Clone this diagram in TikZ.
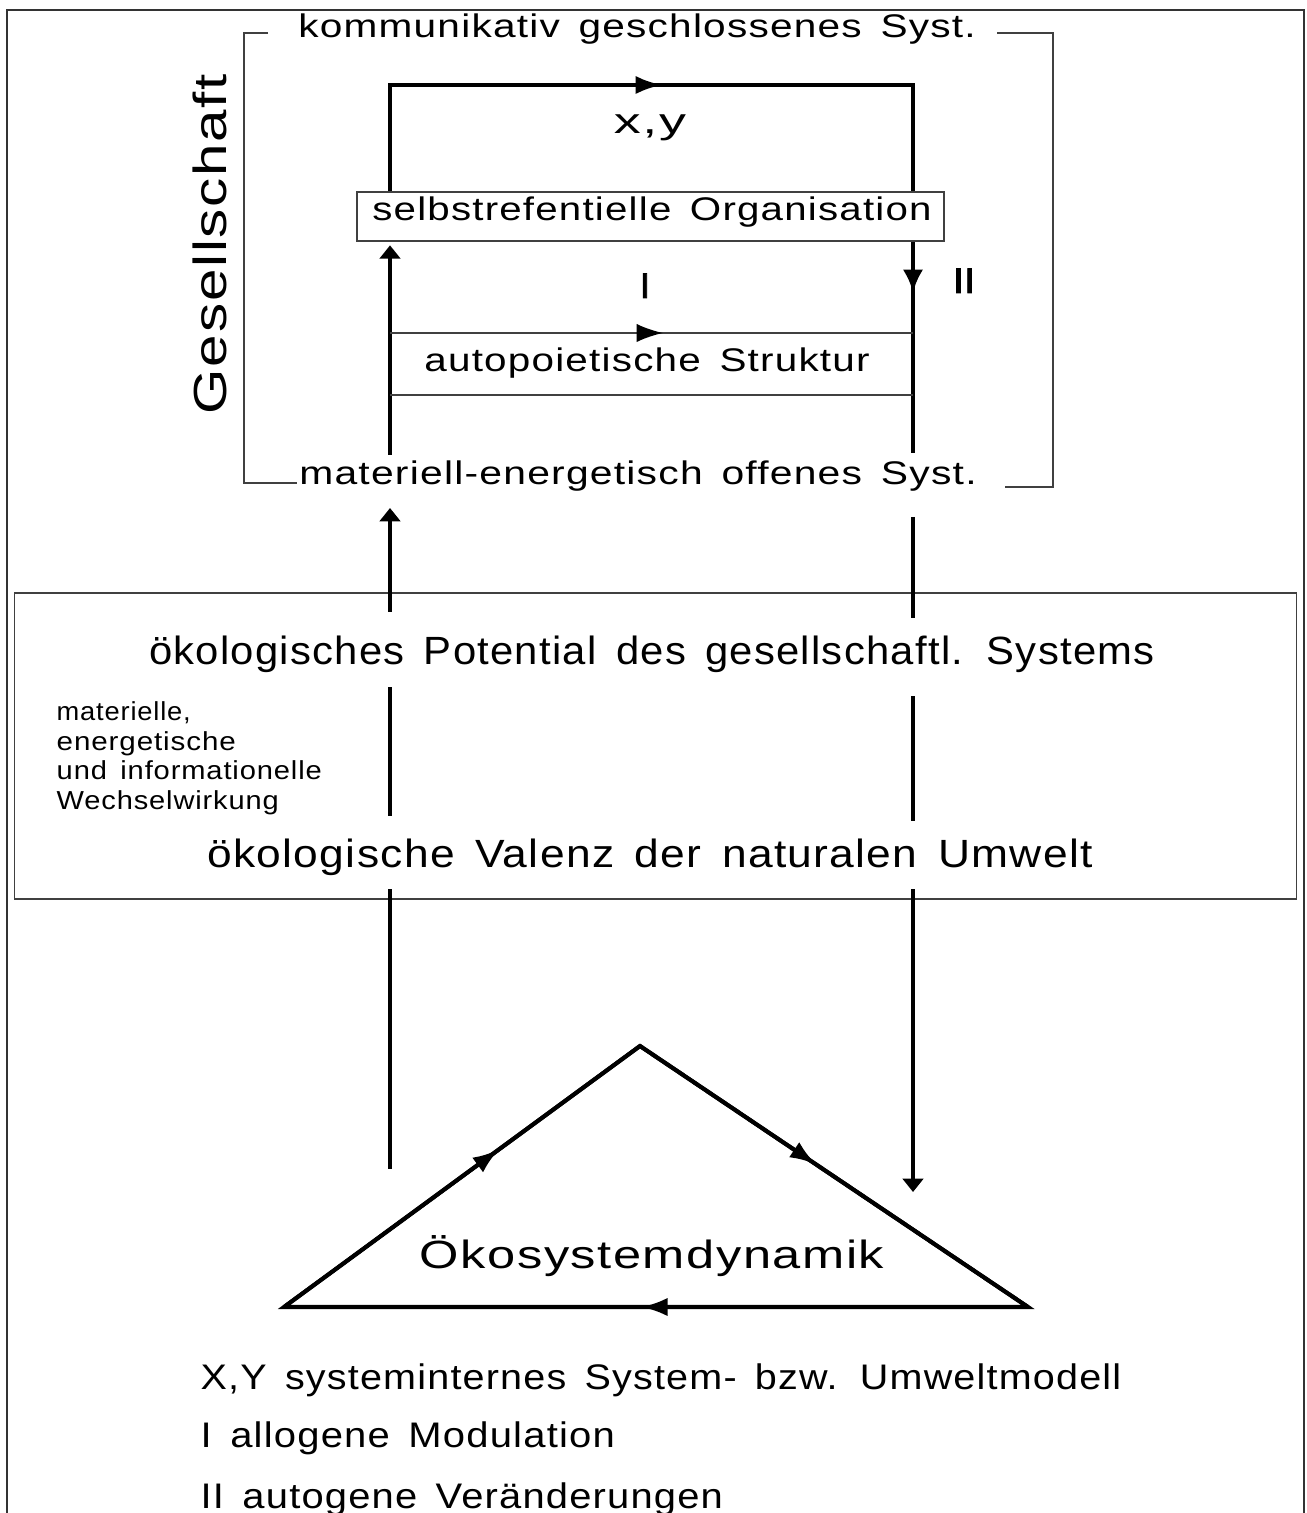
\documentclass[tikz,border=0pt]{standalone}
\usepackage{graphicx}
\usepackage{fontspec}
\setmainfont{Liberation Sans}[LetterSpace=3, WordSpace=1.5]
\newfontfamily\heavyfont{Liberation Sans}[FakeBold=2.2]
\usetikzlibrary{arrows.meta,decorations.markings}

% set a text so that its width becomes #1 (in 0.01cm units)
\newsavebox\fitbox
\newlength\fitlen
\newcommand\fitto[2]{%
  \sbox\fitbox{#2}\setlength\fitlen{\wd\fitbox}%
  \pgfmathsetmacro\fitratio{#1*0.284528/\fitlen}%
  \scalebox{\fitratio}[1]{\usebox\fitbox}}

\newcommand\fsSide{\fontsize{7.4pt}{8.5pt}\selectfont}
\newcommand\fsSmall{\fontsize{9.3pt}{10pt}\selectfont}
\newcommand\fsMid{\fontsize{10.1pt}{11pt}\selectfont}
\newcommand\fsBig{\fontsize{11.2pt}{12pt}\selectfont}
\newcommand\fsHuge{\fontsize{13.2pt}{15pt}\selectfont}

\tikzset{
  heavy/.style={line width=1.15pt},
  fine/.style={line width=0.45pt, draw=black!75},
  frameline/.style={line width=0.6pt, draw=black!80},
  lbl/.style={inner sep=0pt, anchor=base},
  lblw/.style={inner sep=0pt, anchor=base west},
  midarrow/.style={postaction={decorate}, decoration={markings,
      mark=at position #1 with {\arrow[black]{Latex[length=7.5pt,width=5.2pt]}}}},
  endtip/.style={-{Triangle[length=3.8pt,width=5.8pt]}},
}

\begin{document}
\begin{tikzpicture}[x=0.01cm,y=-0.01cm]
\useasboundingbox (0,0) rectangle (1306,1513);
\clip (0,0) rectangle (1306,1513);

% outer frame, open at the bottom
\draw[frameline] (7,1530) -- (7,10) -- (1304,10) -- (1304,1530);

% society bracket with its two labels
\node[lbl, anchor=center, rotate=90] (ges) at (210,244) {\fsHuge\fitto{340}{Gesellschaft}};
\node[lbl] (komm) at (637,38) {\fsSmall\fitto{677}{kommunikativ geschlossenes Syst.}};
\node[lbl] (mat) at (638,485) {\fsSmall\fitto{677}{materiell-energetisch offenes Syst.}};
\draw[fine] (268,33) -- (244,33) -- (244,483) -- (297,483);
\draw[fine] (997,33) -- (1053,33) -- (1053,487) -- (1005,487);

% self-referential organisation
\node[draw=black!75, line width=0.45pt, minimum width=5.87cm, minimum height=0.49cm, inner sep=0pt] (org) at (650.5,216.5) {};
\node[lbl] (orgtxt) at (652,221) {\fsSmall\fitto{559}{selbstrefentielle Organisation}};

% upper loop (x,y)
\coordinate (Ltop) at (390,85);
\coordinate (Rtop) at (913,85);
\draw[heavy] (org.north -| Ltop) -- (Ltop) -- (Rtop) -- (org.north -| Rtop);
\draw[heavy, midarrow=0.52] (Ltop) -- (Rtop);
\node[lbl] (xy) at (650,134) {\fsMid\fitto{72}{x,y}};

% vertical flows inside the society
\coordinate (Lin) at (390,455);
\coordinate (Rin) at (913,453);
\draw[heavy, endtip, shorten >=1pt] (Lin) -- (org.south -| Lin);
\draw[heavy, postaction={decorate}, decoration={markings,
    mark=at position 0.24 with {\arrow{Latex[length=6.5pt,width=5.8pt]}}}] (org.south -| Rin) -- (Rin);
\node[lbl] (one) at (645,298) {\heavyfont\fsMid I};
\node[lbl] (two) at (964,293) {\heavyfont\fsMid\fitto{22}{II}};

% autopoietic structure
\coordinate (a1) at (390,333);
\coordinate (a2) at (913,333);
\coordinate (b1) at (390,395);
\coordinate (b2) at (913,395);
\draw[fine, line width=0.6pt, midarrow=0.522] (a1) -- (a2);
\draw[fine, line width=0.6pt] (b1) -- (b2);
\node[lbl] (auto) at (647,372) {\fsSmall\fitto{445}{autopoietische Struktur}};

% exchange box
\node[draw=black!75, line width=0.45pt, minimum width=12.81cm, minimum height=3.06cm, inner sep=0pt] (eco) at (655.5,746) {};
\node[lbl] (pot) at (652,665) {\fsBig\fitto{1005}{ökologisches Potential des gesellschaftl. Systems}};
\node[lbl] (val) at (650,867) {\fsBig\fitto{885}{ökologische Valenz der naturalen Umwelt}};
\node[lblw] (s1) at (56,720) {\fsSide\fitto{134}{materielle,}};
\node[lblw] (s2) at (56,750) {\fsSide\fitto{179}{energetische}};
\node[lblw] (s3) at (56,779) {\fsSide\fitto{265}{und informationelle}};
\node[lblw] (s4) at (56,809) {\fsSide\fitto{222}{Wechselwirkung}};

% flows through the exchange box
\draw[heavy, endtip] (390,612) -- (390,508);
\draw[heavy] (913,517) -- (913,618);
\draw[heavy] (390,687) -- (390,816);
\draw[heavy] (913,696) -- (913,821);
\draw[heavy] (390,889) -- (390,1169);
\draw[heavy, endtip] (913,889) -- (913,1192);

% ecosystem dynamics triangle
\coordinate (apex) at (640,1046);
\coordinate (tl) at (284,1307);
\coordinate (tr) at (1028,1307);
\draw[heavy, line join=miter] (tl) -- (apex) -- (tr) -- cycle;
\draw[heavy, midarrow=0.604] (tl) -- (apex);
\draw[heavy, midarrow=0.454] (apex) -- (tr);
\draw[heavy, midarrow=0.52] (tr) -- (tl);
\node[lbl] (dyn) at (652,1268) {\fsBig\fitto{464}{Ökosystemdynamik}};

% legend
\node[lblw] (l1) at (200,1389) {\fsMid\fitto{920}{X,Y systeminternes System- bzw. Umweltmodell}};
\node[lblw] (l2) at (200,1447) {\fsMid\fitto{414}{I allogene Modulation}};
\node[lblw] (l3) at (200,1508) {\fsMid\fitto{522}{II autogene Veränderungen}};
\end{tikzpicture}
\end{document}
